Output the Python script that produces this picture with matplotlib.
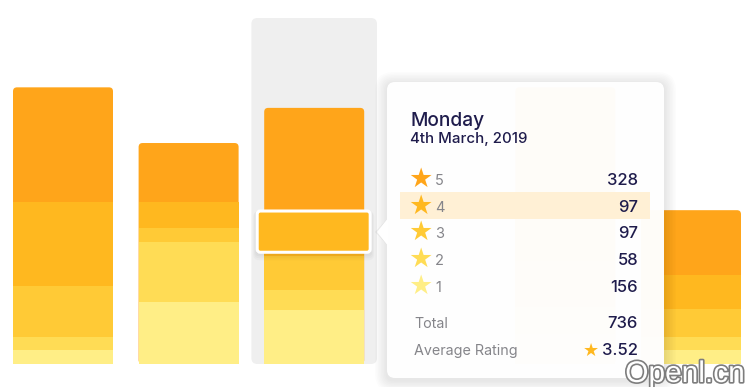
import matplotlib
matplotlib.use("Agg")
import matplotlib.pyplot as plt
from matplotlib.patches import FancyBboxPatch, Rectangle, Polygon
import matplotlib.patheffects as pe

# ---------------- data ----------------
ratings = [5, 4, 3, 2, 1]
rating_colors = ["#FFA51A", "#FFB81F", "#FFCA36", "#FFDC55", "#FFEE86"]
# per-bar counts, ordered as ratings (5,4,3,2,1)
bar1 = [330, 241, 147, 37, 40]
bar2 = [170, 73, 40, 174, 178]
bar3 = [328, 97, 97, 58, 156]   # Monday (hovered)
bar4 = [0, 0, 0, 0, 0]
bar5 = [300, 200, 130, 80, 85]
bar6 = [187, 96, 81, 38, 40]
bars = [bar1, bar2, bar3, bar4, bar5, bar6]
hover_index = 2
hover_rating = 4
hover_day = "Monday"
hover_date = "4th March, 2019"

# ---------------- layout ----------------
W, H = 750, 387
PX_X = 125.6      # pixels per category
PX_Y = 0.348      # pixels per count
BASE_PX = 23      # bar baseline from bottom (px)
X0_PX = 63        # centre of first bar (px)
BAR_W = 100 / PX_X

fig = plt.figure(figsize=(W / 100, H / 100), dpi=100)
fig.patch.set_facecolor("white")
ax = fig.add_axes([0, 0, 1, 1])
ax.set_xlim(-X0_PX / PX_X, (W - X0_PX) / PX_X)
ax.set_ylim(-BASE_PX / PX_Y, (H - BASE_PX) / PX_Y)
ax.axis("off")
aspect = PX_X / PX_Y

# hover column
col_h = (H - BASE_PX - 18) / PX_Y
ax.add_patch(FancyBboxPatch((hover_index - 0.5, 0), 1.0, col_h,
                            boxstyle=f"round,pad=0,rounding_size={6 / PX_X}",
                            mutation_aspect=aspect, fc="#EFEFEF", ec="none", zorder=1))

for i, vals in enumerate(bars):
    total = sum(vals)
    if total <= 0:
        continue
    left = i - BAR_W / 2
    # full bar in top colour with rounded corners
    ax.add_patch(FancyBboxPatch((left, 0), BAR_W, total,
                                boxstyle=f"round,pad=0,rounding_size={4 / PX_X}",
                                mutation_aspect=aspect, fc=rating_colors[0], ec="none", zorder=2))
    # lower segments stacked from the bottom (rating 1 first)
    bottom = 0
    for r_i in range(len(ratings) - 1, 0, -1):
        v = vals[r_i]
        ax.bar(i, v, bottom=bottom, width=BAR_W, color=rating_colors[r_i],
               linewidth=0, zorder=3)
        bottom += v

# highlighted segment on the hovered bar
hv = bars[hover_index]
h_idx = ratings.index(hover_rating)
seg_bottom = sum(hv[h_idx + 1:])
seg_h = hv[h_idx]
pad_l, pad_r, pad_top, pad_bot = 7, 6, 11, -3.5
hx = hover_index - BAR_W / 2 - pad_l / PX_X
hy = seg_bottom - pad_bot / PX_Y
hw = BAR_W + (pad_l + pad_r) / PX_X
hh = seg_h + (pad_top + pad_bot) / PX_Y
for k in range(4):
    ax.add_patch(FancyBboxPatch((hx, hy - (1 + k) / PX_Y), hw, hh,
                                boxstyle=f"round,pad={(1 + k) / PX_X},rounding_size={(3 + k) / PX_X}",
                                mutation_aspect=aspect, fc="black", ec="none",
                                alpha=0.025, zorder=4))
ax.add_patch(FancyBboxPatch((hx, hy), hw, hh,
                            boxstyle=f"round,pad=0,rounding_size={3 / PX_X}",
                            mutation_aspect=aspect, fc=rating_colors[h_idx], ec="white",
                            linewidth=2.2, zorder=5))

# ---------------- tooltip overlay (pixel coords) ----------------
ov = fig.add_axes([0, 0, 1, 1], zorder=10)
ov.set_xlim(0, W)
ov.set_ylim(H, 0)
ov.axis("off")
ov.patch.set_alpha(0)

tx0, ty0, tx1, ty1 = 387, 82, 664, 378
for k in range(8):
    ov.add_patch(FancyBboxPatch((tx0, ty0 + 2), tx1 - tx0, ty1 - ty0,
                                boxstyle=f"round,pad={1.5 * (k + 1)},rounding_size={8 + 1.5 * k}",
                                fc="black", ec="none", alpha=0.012, zorder=1))
ov.add_patch(Polygon([[tx0 + 2, 217], [375, 232], [tx0 + 2, 247]], closed=True,
                     fc="black", ec="none", alpha=0.05, zorder=1))
ov.add_patch(FancyBboxPatch((tx0, ty0), tx1 - tx0, ty1 - ty0,
                            boxstyle="round,pad=0,rounding_size=8",
                            fc="white", ec="none", alpha=0.975, zorder=2))
ov.add_patch(Polygon([[tx0 + 1, 218], [377, 232], [tx0 + 1, 246]], closed=True,
                     fc="white", ec="none", zorder=2))

navy = "#1F1C4C"
grey = "#85858A"
FONT = "Inter"
ov.text(410, 126, hover_day, fontsize=13.8, color=navy, family=FONT,
        fontweight="medium", va="baseline", ha="left", zorder=5)
ov.text(410, 143, hover_date, fontsize=10.8, color=navy, family=FONT,
        fontweight="medium", va="baseline", ha="left", zorder=5)

row_base = [185, 211.7, 238.3, 265, 292]
vals = bars[hover_index]
ov.add_patch(Rectangle((400, 192.3), 249.5, 27, fc="#FFF0D5", ec="none", zorder=3))
for j, (r, v) in enumerate(zip(ratings, vals)):
    yb = row_base[j]
    ov.text(420, yb + 2, "\u2605", fontsize=19.5, color=rating_colors[j],
            family="DejaVu Sans", ha="center", va="baseline", zorder=5)
    ov.text(435, yb, str(r), fontsize=10.5, color=grey, family=FONT,
            ha="left", va="baseline", zorder=5)
    ov.text(638, yb, str(v), fontsize=12, color=navy, family=FONT,
            fontweight="medium", ha="right", va="baseline", zorder=5)

total = sum(vals)
avg = sum(r * v for r, v in zip(ratings, vals)) / total
ov.text(414, 328, "Total", fontsize=10.3, color=grey, family=FONT,
        ha="left", va="baseline", zorder=5)
ov.text(638, 328, str(total), fontsize=12, color=navy, family=FONT,
        fontweight="medium", ha="right", va="baseline", zorder=5)
ov.text(414, 355, "Average Rating", fontsize=10.3, color=grey, family=FONT,
        ha="left", va="baseline", zorder=5)
ov.text(638, 355, f"{avg:.2f}", fontsize=12, color=navy, family=FONT,
        fontweight="medium", ha="right", va="baseline", zorder=5)
ov.text(591, 356, "\u2605", fontsize=13, color=rating_colors[1],
        family="DejaVu Sans", ha="center", va="baseline", zorder=5)

# watermark
ov.text(745, 382, "Openl.cn", fontsize=21.5, color="white", family="Liberation Sans",
        ha="right", va="baseline", zorder=6,
        path_effects=[pe.withStroke(linewidth=2.4, foreground="#7d7d7d")])

fig.savefig("out.png", dpi=100, facecolor="white")
